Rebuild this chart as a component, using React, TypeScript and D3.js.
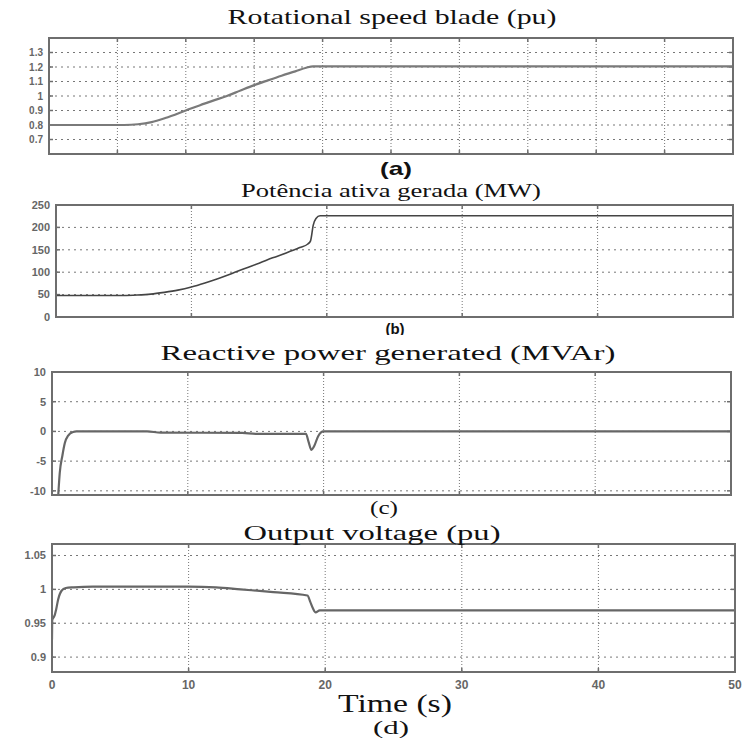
import React, { useEffect, useRef } from "react";
import * as d3 from "d3";

// panel (a) rotational speed (pu)
const speedT = [0, 5.5, 6.5, 7.5, 8.5, 10, 11, 12, 13, 14, 15, 16, 17, 18, 18.8, 19.3, 50];
const speedV = [0.8, 0.8, 0.805, 0.82, 0.848, 0.9, 0.935, 0.968, 1.0, 1.038, 1.075, 1.108, 1.14, 1.17, 1.195, 1.205, 1.205];
const speedTicks = [0.7, 0.8, 0.9, 1, 1.1, 1.2, 1.3];

// panel (b) active power (MW)
const powerT = [0, 5, 6, 7, 8, 9, 10, 11, 12, 13, 14, 15, 16, 17, 18, 18.6, 18.8, 19.0, 19.2, 19.5, 50];
const powerV = [48, 48, 49, 51, 55, 60, 67, 76, 86, 97, 109, 120, 132, 143, 155, 163, 170, 205, 220, 226, 226];
const powerTicks = [0, 50, 100, 150, 200, 250];

// panel (c) reactive power (MVAr)
const reactT = [0.46, 0.57, 0.77, 0.94, 1.19, 1.55, 1.8, 7, 8, 14, 15, 18.7, 18.9, 19.1, 19.3, 19.6, 20, 50];
const reactV = [-10.7, -7, -4, -2, -0.7, -0.1, 0, 0, -0.2, -0.25, -0.4, -0.4, -1.8, -3.1, -2.5, -0.8, 0, 0];
const reactTicks = [-10, -5, 0, 5, 10];

// panel (d) output voltage (pu)
const voltT = [0, 0.02, 0.1, 0.2, 0.3, 0.45, 0.7, 1.0, 1.6, 3, 10, 12, 13.8, 16.2, 18.7, 18.9, 19.1, 19.3, 19.6, 20, 50];
const voltV = [0.926, 0.955, 0.958, 0.962, 0.97, 0.985, 0.998, 1.002, 1.003, 1.004, 1.004, 1.003, 1.0, 0.996, 0.991, 0.982, 0.972, 0.966, 0.969, 0.969, 0.969];
const voltTicks = [0.9, 0.95, 1, 1.05];

const timeTicks = [0, 10, 20, 30, 40, 50];

const GRID = "#777";
const FRAME = "#6e6e6e";

function drawPanel(svg, opts) {
  const x = d3.scaleLinear().domain([0, 50]).range([opts.left, opts.right]);
  const y = d3.scaleLinear().domain(opts.yDomain).range([opts.bottom, opts.top]);
  const g = svg.append("g");

  // grid
  g.selectAll("line.vg")
    .data(opts.xGrid)
    .enter().append("line")
    .attr("x1", d => x(d)).attr("x2", d => x(d))
    .attr("y1", opts.top).attr("y2", opts.bottom)
    .attr("stroke", GRID).attr("stroke-width", 1)
    .attr("stroke-dasharray", "1,2");

  g.selectAll("line.hg")
    .data(opts.yTicks)
    .enter().append("line")
    .attr("x1", opts.left).attr("x2", opts.right)
    .attr("y1", d => y(d)).attr("y2", d => y(d))
    .attr("stroke", GRID).attr("stroke-width", 1)
    .attr("stroke-dasharray", "2,4");

  // inward ticks
  const tk = 4;
  opts.xGrid.forEach(d => {
    g.append("line").attr("x1", x(d)).attr("x2", x(d)).attr("y1", opts.bottom).attr("y2", opts.bottom - tk)
      .attr("stroke", FRAME).attr("stroke-width", 1.5);
    g.append("line").attr("x1", x(d)).attr("x2", x(d)).attr("y1", opts.top).attr("y2", opts.top + tk)
      .attr("stroke", FRAME).attr("stroke-width", 1.5);
  });
  opts.yTicks.forEach(d => {
    g.append("line").attr("x1", opts.left).attr("x2", opts.left + tk).attr("y1", y(d)).attr("y2", y(d))
      .attr("stroke", FRAME).attr("stroke-width", 1.5);
    g.append("line").attr("x1", opts.right).attr("x2", opts.right - tk).attr("y1", y(d)).attr("y2", y(d))
      .attr("stroke", FRAME).attr("stroke-width", 1.5);
  });

  // y labels
  g.selectAll("text.yl")
    .data(opts.yTicks)
    .enter().append("text")
    .attr("x", opts.left - 6)
    .attr("y", d => y(d))
    .attr("dy", "0.35em")
    .attr("text-anchor", "end")
    .attr("font-family", "Liberation Sans, Arial, sans-serif")
    .attr("font-size", opts.labelSize)
    .attr("font-weight", "bold")
    .attr("fill", "#666")
    .text(d => String(d));

  if (opts.xLabels) {
    g.selectAll("text.xl")
      .data(timeTicks)
      .enter().append("text")
      .attr("x", d => x(d))
      .attr("y", opts.bottom + 17)
      .attr("text-anchor", "middle")
      .attr("font-family", "Liberation Sans, Arial, sans-serif")
      .attr("font-size", 12)
      .attr("font-weight", "bold")
      .attr("fill", "#666")
      .text(d => d);
  }

  const clipId = "clip" + opts.id;
  svg.append("clipPath").attr("id", clipId)
    .append("rect")
    .attr("x", opts.left).attr("y", opts.top)
    .attr("width", opts.right - opts.left).attr("height", opts.bottom - opts.top);

  const line = d3.line()
    .x((d, i) => x(opts.t[i]))
    .y(d => y(d))
    .curve(d3.curveMonotoneX);

  g.append("path")
    .datum(opts.v)
    .attr("clip-path", `url(#${clipId})`)
    .attr("fill", "none")
    .attr("stroke", opts.color)
    .attr("stroke-width", opts.width)
    .attr("d", line);

  // frame
  g.append("rect")
    .attr("x", opts.left).attr("y", opts.top)
    .attr("width", opts.right - opts.left).attr("height", opts.bottom - opts.top)
    .attr("fill", "none").attr("stroke", FRAME).attr("stroke-width", 2);
}

// text squeezed/stretched horizontally to the width seen in the picture
function label(svg, txt, cx, baseline, size, len, family, weight) {
  const t = svg.append("text")
    .attr("x", 0).attr("y", 0)
    .attr("text-anchor", "middle")
    .attr("font-family", family)
    .attr("font-size", size)
    .attr("font-weight", weight || "normal")
    .attr("fill", "#111")
    .text(txt);
  const w = t.node().getComputedTextLength() || len;
  t.attr("transform", `translate(${cx},${baseline}) scale(${len / w},1)`);
  return t;
}

export default function App() {
  const ref = useRef(null);

  useEffect(() => {
    document.body.style.margin = "0";
    const svg = d3.select(ref.current);
    svg.selectAll("*").remove();
    svg.append("rect").attr("width", 749).attr("height", 740).attr("fill", "#fff");

    const serif = "Liberation Serif, Times New Roman, serif";
    const sans = "Liberation Sans, Arial, sans-serif";

    drawPanel(svg, {
      id: "a", left: 49, right: 733, top: 38, bottom: 154,
      yDomain: [0.6, 1.4], yTicks: speedTicks, xGrid: d3.range(5, 50, 5),
      t: speedT, v: speedV, color: "#7a7a7a", width: 2.2, labelSize: 10
    });
    drawPanel(svg, {
      id: "b", left: 56, right: 733, top: 205, bottom: 317,
      yDomain: [0, 250], yTicks: powerTicks, xGrid: [10, 20, 30, 40],
      t: powerT, v: powerV, color: "#444", width: 1.6, labelSize: 11
    });
    drawPanel(svg, {
      id: "c", left: 52, right: 731, top: 372, bottom: 495,
      yDomain: [-10.7, 10], yTicks: reactTicks, xGrid: [10, 20, 30, 40],
      t: reactT, v: reactV, color: "#666", width: 2.2, labelSize: 11
    });
    drawPanel(svg, {
      id: "d", left: 52, right: 735, top: 544, bottom: 672,
      yDomain: [0.878, 1.067], yTicks: voltTicks, xGrid: [10, 20, 30, 40],
      t: voltT, v: voltV, color: "#666", width: 2.2, labelSize: 11, xLabels: true
    });

    label(svg, "Rotational speed blade (pu)", 392, 24, 22, 329, serif);
    label(svg, "(a)", 396, 175, 18, 32, sans, "bold");
    label(svg, "Potência ativa gerada (MW)", 391, 197, 19, 300, serif);

    // (b) is cut off at the bottom in the picture
    svg.append("clipPath").attr("id", "bclip")
      .append("rect").attr("x", 360).attr("y", 320).attr("width", 80).attr("height", 15);
    svg.append("text")
      .attr("x", 395).attr("y", 334)
      .attr("text-anchor", "middle")
      .attr("font-family", sans).attr("font-size", 15).attr("font-weight", "bold")
      .attr("fill", "#111")
      .attr("clip-path", "url(#bclip)")
      .text("(b)");

    label(svg, "Reactive power generated (MVAr)", 388, 360, 21, 455, serif);
    label(svg, "(c)", 384, 514, 18, 28, serif);
    label(svg, "Output voltage (pu)", 372, 540, 21, 257, serif);
    label(svg, "Time (s)", 395, 712, 25, 114, serif);
    label(svg, "(d)", 391, 734, 19, 36, serif);
  }, []);

  return <svg ref={ref} width={749} height={740} style={{ display: "block" }}></svg>;
}
